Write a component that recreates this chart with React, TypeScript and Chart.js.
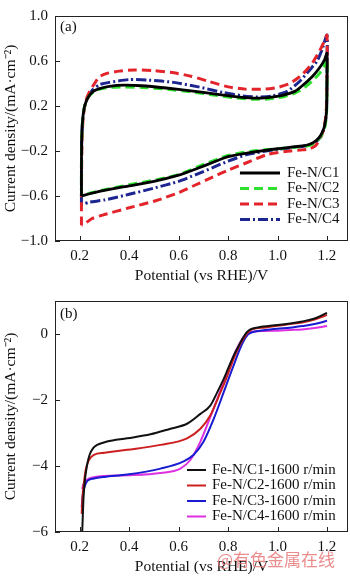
import React, { useEffect, useRef } from "react";
import { Chart, registerables } from "chart.js";
Chart.register(...registerables);

const FONT = "'Liberation Serif', 'Times New Roman', serif";

// ---------- axes ----------
const xTicks = [0.2, 0.4, 0.6, 0.8, 1.0, 1.2];
const cvYTicks = [-1.0, -0.6, -0.2, 0.2, 0.6, 1.0];
const lsvYTicks = [-6, -4, -2, 0];

// ---------- (a) CV curves ----------
const cvLabels = ["Fe-N/C1", "Fe-N/C2", "Fe-N/C3", "Fe-N/C4"];

const cvC1X = [0.207, 0.207, 0.208, 0.212, 0.22, 0.235, 0.255, 0.28, 0.32, 0.38, 0.45, 0.55, 0.65, 0.75, 0.82, 0.9, 0.96, 1.02, 1.07, 1.1, 1.14, 1.17, 1.19, 1.2, 1.2, 1.198, 1.19, 1.175, 1.155, 1.13, 1.1, 1.0, 0.9, 0.8, 0.74, 0.67, 0.6, 0.5, 0.4, 0.3, 0.24, 0.215, 0.207];
const cvC1Y = [-0.6, -0.35, -0.1, 0.08, 0.2, 0.28, 0.33, 0.355, 0.375, 0.385, 0.38, 0.36, 0.335, 0.305, 0.285, 0.27, 0.275, 0.295, 0.33, 0.38, 0.46, 0.54, 0.61, 0.67, 0.4, 0.15, 0.02, -0.06, -0.11, -0.14, -0.155, -0.18, -0.21, -0.25, -0.3, -0.36, -0.415, -0.47, -0.51, -0.55, -0.58, -0.595, -0.6];

const cvC2X = [0.207, 0.207, 0.208, 0.212, 0.22, 0.235, 0.255, 0.28, 0.32, 0.38, 0.45, 0.55, 0.65, 0.75, 0.82, 0.9, 0.96, 1.02, 1.07, 1.1, 1.14, 1.17, 1.19, 1.2, 1.2, 1.198, 1.19, 1.175, 1.155, 1.13, 1.1, 1.0, 0.9, 0.8, 0.7, 0.6, 0.5, 0.4, 0.3, 0.24, 0.215, 0.207];
const cvC2Y = [-0.6, -0.35, -0.1, 0.08, 0.2, 0.28, 0.325, 0.35, 0.365, 0.37, 0.365, 0.35, 0.325, 0.295, 0.275, 0.26, 0.262, 0.28, 0.315, 0.35, 0.42, 0.49, 0.56, 0.62, 0.35, 0.12, 0.0, -0.07, -0.12, -0.15, -0.16, -0.18, -0.2, -0.24, -0.32, -0.41, -0.46, -0.5, -0.545, -0.575, -0.59, -0.6];

const cvC3X = [0.207, 0.207, 0.208, 0.21, 0.215, 0.225, 0.24, 0.26, 0.28, 0.31, 0.36, 0.42, 0.5, 0.58, 0.65, 0.72, 0.8, 0.87, 0.95, 1.0, 1.05, 1.1, 1.14, 1.17, 1.19, 1.2, 1.2, 1.198, 1.19, 1.175, 1.155, 1.13, 1.1, 1.05, 0.96, 0.88, 0.8, 0.74, 0.67, 0.6, 0.51, 0.4, 0.3, 0.25, 0.215, 0.207];
const cvC3Y = [-0.86, -0.6, -0.3, -0.05, 0.12, 0.25, 0.33, 0.4, 0.46, 0.49, 0.51, 0.52, 0.515, 0.495, 0.465, 0.42, 0.37, 0.35, 0.35, 0.365, 0.4, 0.48, 0.58, 0.69, 0.78, 0.83, 0.5, 0.2, 0.02, -0.08, -0.15, -0.18, -0.19, -0.2, -0.23, -0.3, -0.37, -0.43, -0.5, -0.57, -0.64, -0.705, -0.765, -0.8, -0.855, -0.86];

const cvC4X = [0.207, 0.207, 0.208, 0.212, 0.22, 0.235, 0.255, 0.28, 0.32, 0.4, 0.48, 0.58, 0.68, 0.78, 0.86, 0.92, 0.98, 1.04, 1.09, 1.13, 1.16, 1.18, 1.2, 1.2, 1.198, 1.19, 1.175, 1.155, 1.13, 1.1, 1.0, 0.88, 0.8, 0.74, 0.67, 0.6, 0.5, 0.4, 0.3, 0.24, 0.215, 0.207];
const cvC4Y = [-0.67, -0.35, -0.1, 0.08, 0.2, 0.29, 0.35, 0.39, 0.41, 0.435, 0.43, 0.41, 0.37, 0.32, 0.29, 0.28, 0.29, 0.33, 0.42, 0.52, 0.6, 0.7, 0.83, 0.5, 0.15, 0.02, -0.07, -0.12, -0.145, -0.16, -0.185, -0.23, -0.29, -0.345, -0.41, -0.47, -0.53, -0.585, -0.635, -0.655, -0.67, -0.67];

// ---------- (b) LSV curves ----------
const lsvLabels = ["Fe-N/C1-1600 r/min", "Fe-N/C2-1600 r/min", "Fe-N/C3-1600 r/min", "Fe-N/C4-1600 r/min"];

const lsvC1X = [0.21, 0.212, 0.215, 0.22, 0.23, 0.24, 0.255, 0.27, 0.31, 0.392, 0.486, 0.567, 0.634, 0.688, 0.728, 0.756, 0.78, 0.8, 0.82, 0.84, 0.86, 0.875, 0.89, 0.92, 1.0, 1.05, 1.1, 1.15, 1.2];
const lsvC1Y = [-6.0, -5.6, -5.0, -4.5, -3.96, -3.66, -3.45, -3.36, -3.26, -3.16, -3.04, -2.87, -2.72, -2.42, -2.17, -1.77, -1.4, -1.05, -0.7, -0.4, -0.12, 0.05, 0.14, 0.2, 0.27, 0.32, 0.38, 0.47, 0.64];

const lsvC2X = [0.208, 0.21, 0.213, 0.218, 0.223, 0.235, 0.257, 0.3, 0.392, 0.527, 0.634, 0.688, 0.728, 0.769, 0.79, 0.81, 0.83, 0.85, 0.87, 0.885, 0.9, 0.95, 1.0, 1.05, 1.1, 1.15, 1.2];
const lsvC2Y = [-5.45, -5.1, -4.77, -4.45, -4.16, -3.85, -3.66, -3.6, -3.51, -3.36, -3.16, -2.87, -2.47, -1.77, -1.4, -1.0, -0.62, -0.3, -0.05, 0.08, 0.15, 0.2, 0.25, 0.3, 0.35, 0.44, 0.58];

const lsvC3X = [0.208, 0.212, 0.218, 0.23, 0.257, 0.3, 0.392, 0.527, 0.62, 0.661, 0.701, 0.742, 0.782, 0.8, 0.82, 0.84, 0.86, 0.88, 0.9, 0.95, 1.0, 1.05, 1.1, 1.15, 1.2];
const lsvC3Y = [-5.25, -4.9, -4.67, -4.46, -4.38, -4.33, -4.26, -4.08, -3.86, -3.66, -3.26, -2.57, -1.77, -1.4, -1.0, -0.6, -0.25, -0.02, 0.06, 0.12, 0.16, 0.19, 0.24, 0.3, 0.4];

const lsvC4X = [0.21, 0.215, 0.23, 0.257, 0.3, 0.392, 0.527, 0.607, 0.648, 0.688, 0.728, 0.756, 0.78, 0.8, 0.82, 0.84, 0.86, 0.88, 0.9, 0.95, 1.0, 1.05, 1.1, 1.15, 1.2];
const lsvC4Y = [-4.7, -4.55, -4.41, -4.34, -4.3, -4.28, -4.21, -4.08, -3.81, -3.26, -2.52, -1.97, -1.5, -1.1, -0.7, -0.38, -0.12, 0.03, 0.07, 0.09, 0.1, 0.12, 0.14, 0.18, 0.24];

// ---------- helpers ----------
const pts = (xs: number[], ys: number[]) => xs.map((x, i) => ({ x, y: ys[i] }));
const minus = (s: string) => s.replace("-", "\u2212");

const frameTicksPlugin = {
  id: "frameTicks",
  afterDraw(chart: any) {
    const { ctx, chartArea: a, scales } = chart;
    ctx.save();
    ctx.strokeStyle = "#222";
    ctx.lineWidth = 1;
    ctx.strokeRect(a.left + 0.5, a.top + 0.5, a.right - a.left - 1, a.bottom - a.top - 1);
    ctx.beginPath();
    scales.x.ticks.forEach((t: any) => {
      const px = Math.round(scales.x.getPixelForValue(t.value)) + 0.5;
      ctx.moveTo(px, a.bottom);
      ctx.lineTo(px, a.bottom - 5);
    });
    scales.y.ticks.forEach((t: any) => {
      const py = Math.round(scales.y.getPixelForValue(t.value)) + 0.5;
      ctx.moveTo(a.left, py);
      ctx.lineTo(a.left + 5, py);
    });
    ctx.stroke();
    ctx.restore();
  },
};

const cornerLegendPlugin = {
  id: "cornerLegend",
  afterDraw(chart: any, _args: any, opts: any) {
    const ctx = chart.ctx;
    ctx.save();
    chart.data.datasets.forEach((ds: any, i: number) => {
      const y = opts.top + i * opts.rowGap;
      ctx.beginPath();
      ctx.setLineDash(ds.borderDash || []);
      ctx.lineWidth = ds.borderWidth;
      ctx.strokeStyle = ds.borderColor;
      ctx.moveTo(opts.lineStart, y);
      ctx.lineTo(opts.lineEnd, y);
      ctx.stroke();
      ctx.setLineDash([]);
      ctx.fillStyle = "#111";
      ctx.font = `15px ${FONT}`;
      ctx.textBaseline = "middle";
      ctx.textAlign = "left";
      ctx.fillText(ds.label, opts.textX, y);
    });
    ctx.restore();
  },
};

const panelTextPlugin = {
  id: "panelText",
  afterDraw(chart: any, _args: any, opts: any) {
    const { ctx, chartArea: a } = chart;
    ctx.save();
    ctx.fillStyle = "#111";
    ctx.font = `15px ${FONT}`;
    ctx.textBaseline = "middle";
    ctx.textAlign = "left";
    ctx.fillText(opts.text, a.left + 5, a.top + opts.dy);
    if (opts.mark) {
      ctx.fillStyle = "rgba(232,120,120,0.85)";
      ctx.font = `17px 'Noto Sans CJK SC', sans-serif`;
      ctx.fillText(opts.mark, 217, chart.height - 16);
    }
    ctx.restore();
  },
};

function makeOptions(yMin: number, yMax: number, yTicks: number[], yFmt: (v: number) => string, padTop: number, legend: any, panel: any) {
  return {
    animation: false as const,
    responsive: false,
    layout: { padding: { top: padTop, right: 2, left: 0, bottom: 0 } },
    plugins: {
      legend: { display: false },
      tooltip: { enabled: false },
      cornerLegend: legend,
      panelText: panel,
    },
    elements: { point: { radius: 0 } },
    scales: {
      x: {
        type: "linear" as const,
        min: 0.1,
        max: 1.285,
        afterBuildTicks: (s: any) => { s.ticks = xTicks.map((v) => ({ value: v })); },
        afterFit: (s: any) => { s.height = 44; },
        grid: { display: false, drawTicks: false },
        border: { display: false },
        ticks: { color: "#111", font: { family: FONT, size: 15 }, padding: 6, callback: (v: any) => Number(v).toFixed(1) },
        title: { display: true, text: "Potential (vs RHE)/V", color: "#111", font: { family: FONT, size: 15.5 }, padding: { top: 0, bottom: 0 } },
      },
      y: {
        type: "linear" as const,
        min: yMin,
        max: yMax,
        afterBuildTicks: (s: any) => { s.ticks = yTicks.map((v) => ({ value: v })); },
        afterFit: (s: any) => { s.width = 55; },
        grid: { display: false, drawTicks: false },
        border: { display: false },
        ticks: { color: "#111", font: { family: FONT, size: 15 }, padding: 7, callback: (v: any) => yFmt(Number(v)) },
        title: { display: true, text: "Current density/(mA\u00b7cm\u207b\u00b2)", color: "#111", font: { family: FONT, size: 15.5 }, padding: { top: 2, bottom: 0 } },
      },
    },
  };
}

function PanelChart({ top, height, config }: { top: number; height: number; config: () => any }) {
  const ref = useRef<HTMLCanvasElement>(null);
  useEffect(() => {
    const chart = new Chart(ref.current as HTMLCanvasElement, config());
    return () => chart.destroy();
  }, []);
  return (
    <div style={{ position: "absolute", left: 0, top, width: 350, height }}>
      <canvas ref={ref} width={350} height={height} style={{ display: "block" }} />
    </div>
  );
}

const cvConfig = () => {
  const series = [
    { x: cvC1X, y: cvC1Y, color: "#000000", dash: [] as number[], w: 2.8 },
    { x: cvC2X, y: cvC2Y, color: "#2fe02f", dash: [9, 5], w: 3 },
    { x: cvC3X, y: cvC3Y, color: "#e3242b", dash: [9, 5], w: 3 },
    { x: cvC4X, y: cvC4Y, color: "#1c2590", dash: [10, 3, 2, 3], w: 3 },
  ];
  return {
    type: "scatter" as const,
    data: {
      datasets: series.map((s, i) => ({
        label: cvLabels[i],
        data: pts(s.x, s.y),
        showLine: true,
        borderColor: s.color,
        backgroundColor: s.color,
        borderWidth: s.w,
        borderDash: s.dash,
        pointRadius: 0,
        tension: 0.2,
      })),
    },
    options: makeOptions(-1, 1, cvYTicks, (v) => minus(v.toFixed(1)), 5,
      { top: 173, rowGap: 15.5, lineStart: 240, lineEnd: 280, textX: 287 },
      { text: "(a)", dy: 11 }),
    plugins: [frameTicksPlugin, cornerLegendPlugin, panelTextPlugin],
  };
};

const lsvConfig = () => {
  const series = [
    { x: lsvC1X, y: lsvC1Y, color: "#111111" },
    { x: lsvC2X, y: lsvC2Y, color: "#cc2020" },
    { x: lsvC3X, y: lsvC3Y, color: "#1a1ad0" },
    { x: lsvC4X, y: lsvC4Y, color: "#dd30e0" },
  ];
  return {
    type: "scatter" as const,
    data: {
      datasets: series.map((s, i) => ({
        label: lsvLabels[i],
        data: pts(s.x, s.y),
        showLine: true,
        borderColor: s.color,
        backgroundColor: s.color,
        borderWidth: 2,
        pointRadius: 0,
        cubicInterpolationMode: "monotone" as const,
      })),
    },
    options: makeOptions(-6, 1, lsvYTicks, (v) => minus(String(v)), 12,
      { top: 185, rowGap: 15.5, lineStart: 187, lineEnd: 206, textX: 212 },
      { text: "(b)", dy: 13, mark: "@有色金属在线" }),
    plugins: [frameTicksPlugin, cornerLegendPlugin, panelTextPlugin],
  };
};

export default function App() {
  return (
    <div style={{ position: "absolute", left: 0, top: 0, width: 350, height: 576, background: "#fff" }}>
      <PanelChart top={0} height={285} config={cvConfig} />
      <PanelChart top={285} height={291} config={lsvConfig} />
    </div>
  );
}
